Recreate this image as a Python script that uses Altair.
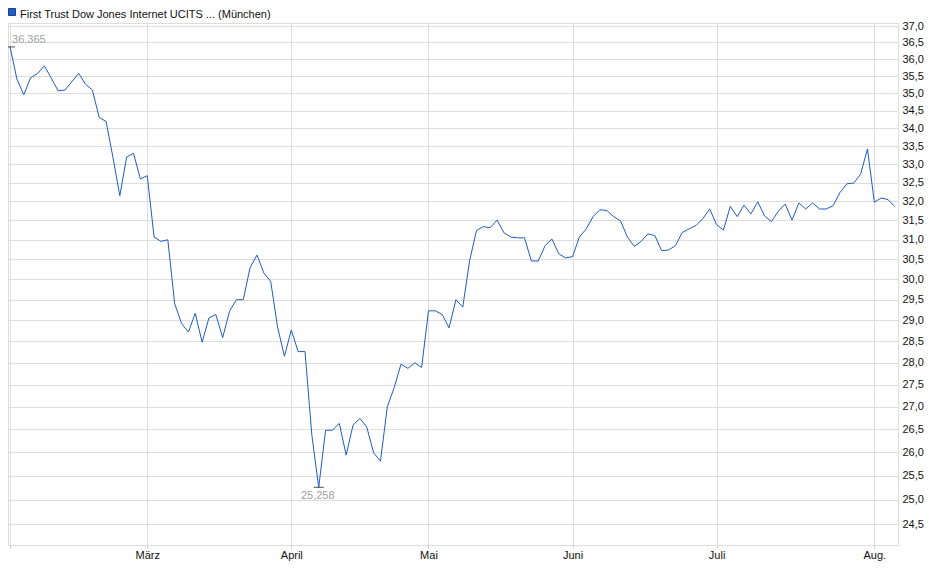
import altair as alt
import pandas as pd

title_text = "First Trust Dow Jones Internet UCITS ... (München)"

prices = [
    36.365, 35.41, 34.95, 35.45, 35.57, 35.80, 35.44, 35.07, 35.09, 35.33,
    35.58, 35.26, 35.09, 34.30, 34.19, 33.19, 32.15, 33.20, 33.30, 32.60,
    32.69, 31.07, 30.96, 31.00, 29.40, 28.93, 28.72, 29.17, 28.48, 29.06,
    29.14, 28.59, 29.22, 29.50, 29.50, 30.30, 30.61, 30.16, 29.95, 28.84,
    28.15, 28.77, 28.26, 28.26, 26.37, 25.258, 26.48, 26.48, 26.63, 25.94,
    26.59, 26.74, 26.55, 25.99, 25.81, 27.00, 27.43, 27.97, 27.87, 28.00,
    27.89, 29.23, 29.23, 29.14, 28.82, 29.50, 29.32, 30.47, 31.24, 31.34,
    31.31, 31.51, 31.18, 31.07, 31.05, 31.05, 30.46, 30.46, 30.85, 31.02,
    30.64, 30.54, 30.57, 31.07, 31.28, 31.60, 31.78, 31.76, 31.60, 31.49,
    31.07, 30.83, 30.96, 31.15, 31.11, 30.72, 30.74, 30.85, 31.19, 31.28,
    31.37, 31.55, 31.80, 31.39, 31.25, 31.87, 31.60, 31.90, 31.67, 31.99,
    31.62, 31.47, 31.74, 31.93, 31.51, 31.96, 31.80, 31.96, 31.80, 31.80,
    31.89, 32.24, 32.47, 32.49, 32.73, 33.42, 31.98, 32.09, 32.05, 31.86,
]

month_starts = [0, 20, 41, 61, 82, 103, 126]
month_labels = ["", "März", "April", "Mai", "Juni", "Juli", "Aug."]

y_ticks = [24.5, 25.0, 25.5, 26.0, 26.5, 27.0, 27.5, 28.0, 28.5, 29.0, 29.5,
           30.0, 30.5, 31.0, 31.5, 32.0, 32.5, 33.0, 33.5, 34.0, 34.5, 35.0,
           35.5, 36.0, 36.5, 37.0]

df = pd.DataFrame({"idx": list(range(len(prices))), "price": prices})

imax = max(range(len(prices)), key=lambda i: prices[i])
imin = min(range(len(prices)), key=lambda i: prices[i])
ext = pd.DataFrame({
    "idx": [imax, imin],
    "price": [prices[imax], prices[imin]],
    "label": [f"{prices[imax]:.3f}".replace(".", ","), f"{prices[imin]:.3f}".replace(".", ",")],
})

FONT = "Liberation Sans"

label_expr_x = "''"
for v, l in reversed(list(zip(month_starts, month_labels))):
    label_expr_x = f"datum.value == {v} ? '{l}' : ({label_expr_x})"

x_enc = alt.X(
    "idx:Q",
    scale=alt.Scale(domain=[-0.3, 129.45], nice=False, zero=False),
    axis=alt.Axis(
        values=month_starts, labelExpr=label_expr_x, title=None, grid=True,
        gridColor="#dddddd", domain=False, ticks=True, tickSize=3,
        tickColor="#c8c8c8", labelPadding=1, labelFont=FONT, labelFontSize=11,
        labelColor="#111111", labelFlush=False, labelOverlap=False,
    ),
)
y_enc = alt.Y(
    "price:Q",
    scale=alt.Scale(type="log", domain=[24.08, 37.092], nice=False, zero=False),
    axis=alt.Axis(
        orient="right", values=y_ticks,
        labelExpr="replace(format(datum.value, '.1f'), '.', ',')",
        title=None, grid=True, gridColor="#dddddd", domain=False, ticks=False,
        labelPadding=4, labelFont=FONT, labelFontSize=11, labelColor="#111111",
        labelOverlap=False,
    ),
)

base = alt.Chart(df)
line = base.mark_line(color="#1f5cc4", strokeWidth=1).encode(x=x_enc, y=y_enc)

ticks = alt.Chart(ext).mark_tick(
    orient="horizontal", size=10, thickness=1, color="#000000"
).encode(x="idx:Q", y="price:Q")

max_text = alt.Chart(ext.iloc[[0]]).mark_text(
    align="left", baseline="alphabetic", dx=2, dy=-4, font=FONT, fontSize=11,
    color="#a0a0a0",
).encode(x="idx:Q", y="price:Q", text="label:N")

min_text = alt.Chart(ext.iloc[[1]]).mark_text(
    align="center", baseline="top", dx=-1, dy=3, font=FONT, fontSize=11,
    color="#a0a0a0",
).encode(x="idx:Q", y="price:Q", text="label:N")

tdf = pd.DataFrame({"t": [title_text]})
legend_sq = alt.Chart(tdf).mark_rect(
    fill="#1f5cc4", stroke="#183f8c", strokeWidth=1
).encode(x=alt.value(0.5), x2=alt.value(7.5), y=alt.value(-14.5), y2=alt.value(-7.5))
legend_txt = alt.Chart(tdf).mark_text(
    align="left", baseline="alphabetic", font=FONT, fontSize=11, color="#111111"
).encode(x=alt.value(12), y=alt.value(-5), text="t:N")

chart = alt.layer(line, ticks, max_text, min_text, legend_sq, legend_txt).properties(
    width=890,
    height=522,
    padding={"left": 0, "top": 15, "right": 32, "bottom": 20},
    autosize=alt.AutoSizeParams(type="none"),
).configure_view(stroke="#d4d4d4", strokeWidth=1).configure(background="white")

chart.save("out.html", embed_options={"renderer": "svg", "actions": False})
